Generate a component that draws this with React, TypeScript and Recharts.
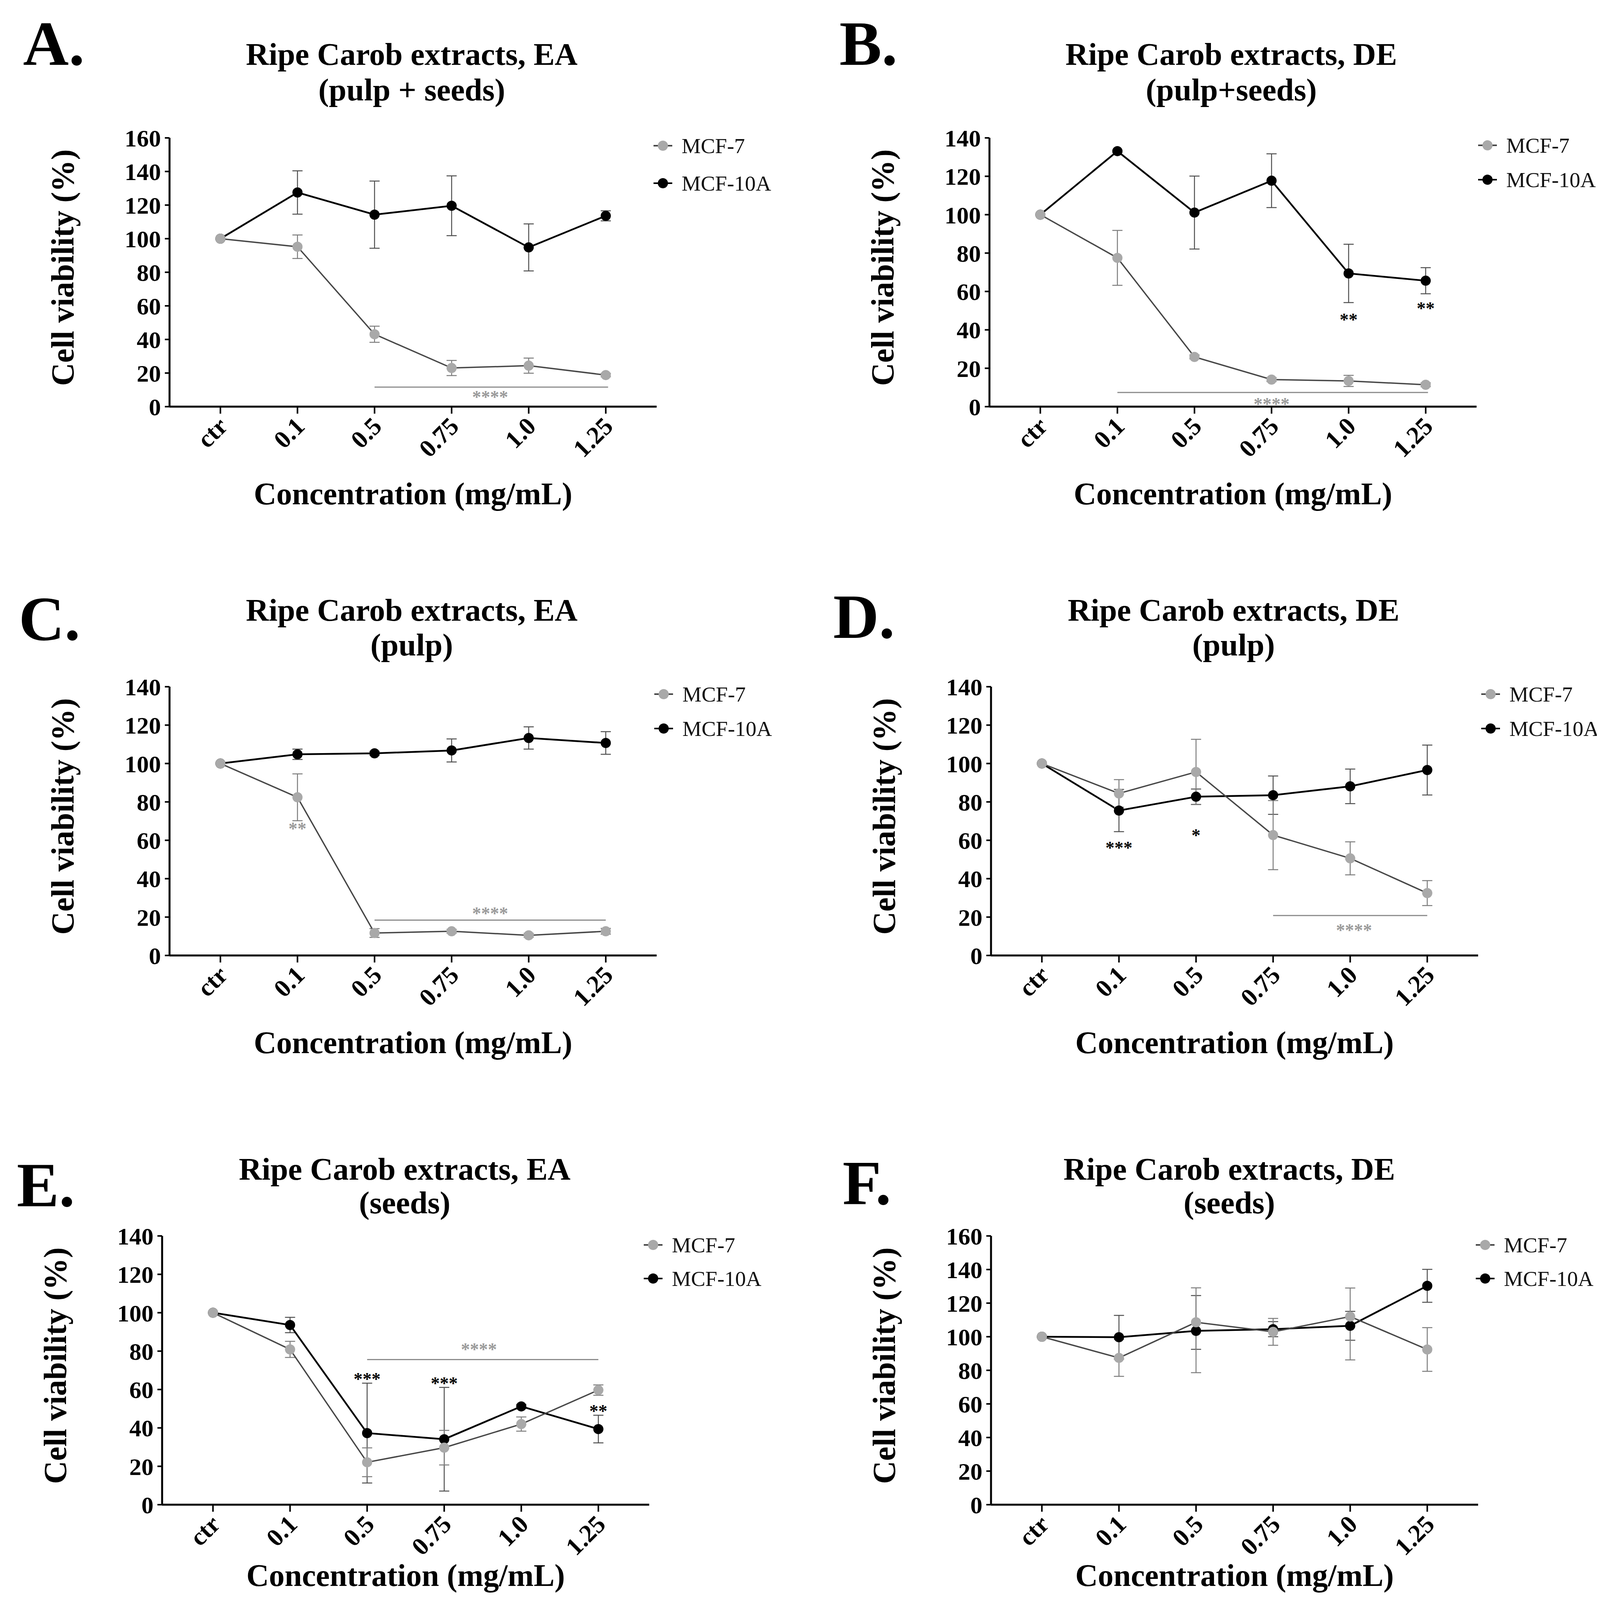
import React from 'react';
import { LineChart, Line, XAxis, YAxis, ErrorBar, ReferenceLine, ReferenceDot, Legend } from 'recharts';

const FONT = '"Liberation Serif", "Times New Roman", Times, serif';

// categories on the x axis
const CATS = ['ctr', '0.1', '0.5', '0.75', '1.0', '1.25'];
const TICKS_160 = [0, 20, 40, 60, 80, 100, 120, 140, 160];
const TICKS_140 = [0, 20, 40, 60, 80, 100, 120, 140];

// A. EA (pulp + seeds)
const A_MCF7 = [100, 95.2, 43.1, 23.0, 24.4, 18.8];
const A_MCF7_SD = [0, 7, 4.8, 4.5, 4.5, 1];
const A_MCF10A = [100, 127.5, 114.3, 119.6, 94.8, 113.6];
const A_MCF10A_SD = [0, 12.9, 20, 17.8, 14, 3];

// B. DE (pulp+seeds)
const B_MCF7 = [100, 77.5, 25.9, 14.1, 13.4, 11.4];
const B_MCF7_SD = [0, 14.3, 1, 1, 2.9, 1];
const B_MCF10A = [100, 133.1, 101.1, 117.7, 69.4, 65.6];
const B_MCF10A_SD = [0, 0.5, 19, 14, 15.2, 6.8];

// C. EA (pulp)
const C_MCF7 = [100, 82.4, 11.7, 12.6, 10.5, 12.6];
const C_MCF7_SD = [0, 12.2, 2.3, 1, 1, 1.5];
const C_MCF10A = [100, 104.8, 105.3, 106.8, 113.3, 110.7];
const C_MCF10A_SD = [0, 2.7, 1, 6, 5.8, 5.9];

// D. DE (pulp)
const D_MCF7 = [100, 84.4, 95.6, 62.7, 50.6, 32.5];
const D_MCF7_SD = [0, 7.2, 17, 18, 8.6, 6.5];
const D_MCF10A = [100, 75.5, 82.7, 83.5, 88.1, 96.6];
const D_MCF10A_SD = [0, 11, 4, 10, 9, 13];

// E. EA (seeds)
const E_MCF7 = [100, 80.9, 22.1, 29.7, 42, 59.7];
const E_MCF7_SD = [0, 4.2, 7.5, 9, 3.7, 2.7];
const E_MCF10A = [100, 93.6, 37.3, 34.1, 51.2, 39.4];
const E_MCF10A_SD = [0, 4, 26, 27, 1, 7.2];

// F. DE (seeds) - some bars are uneven: [down, up]
const F_MCF7 = [100, 87.4, 108.6, 102.9, 112, 92.4];
const F_MCF7_SD = [[0, 0], [11, 11], [30, 20.5], [8, 8], [25.8, 17], [13, 13]];
const F_MCF10A = [100, 99.7, 103.5, 104.5, 106.5, 130.3];
const F_MCF10A_SD = [[0, 0], [13, 13], [11, 21], [4.5, 4.5], [8.6, 8.6], [9.8, 9.8]];

// significance marks
const GRAY_STAR = '#9a9a9a';
const A_BARS = [{ x1: 2, x2: 5.03, y: 11.6 }];
const A_STARS = [{ x: 3.5, y: 7.2, text: '****', color: GRAY_STAR }];
const B_BARS = [{ x1: 1, x2: 5.03, y: 7.4 }];
const B_STARS = [
  { x: 3.0, y: 2.7, text: '****', color: GRAY_STAR },
  { x: 4, y: 46.7, text: '**', color: '#000' },
  { x: 5, y: 52.5, text: '**', color: '#000' },
];
const C_BARS = [{ x1: 2, x2: 5.0, y: 18.4 }];
const C_STARS = [
  { x: 1, y: 67.4, text: '**', color: GRAY_STAR },
  { x: 3.5, y: 23.1, text: '****', color: GRAY_STAR },
];
const D_BARS = [{ x1: 3, x2: 5, y: 20.8 }];
const D_STARS = [
  { x: 1, y: 57.4, text: '***', color: '#000' },
  { x: 2, y: 63.8, text: '*', color: '#000' },
  { x: 4.05, y: 14.5, text: '****', color: GRAY_STAR },
];
const E_BARS = [{ x1: 2, x2: 5, y: 75.6 }];
const E_STARS = [
  { x: 2, y: 66.7, text: '***', color: '#000' },
  { x: 3, y: 64.6, text: '***', color: '#000' },
  { x: 5, y: 50, text: '**', color: '#000' },
  { x: 3.45, y: 82.3, text: '****', color: GRAY_STAR },
];

const C7_DOT = '#a9a9a9';
const C7_LINE = '#474747';
const C7_ERR = '#7d7d7d';
const C10_ERR = '#505050';

// plot box size and its offset inside each chart
const PW = 1247;
const PH = 688;
const ML = 400;
const MT = 330;
const W = ML + PW + 360;
const H = MT + PH + 320;

const PANELS = [
  { letter: 'A.', t1: 'Ripe Carob extracts, EA', t2: '(pulp + seeds)', L: 434, T: 353, yMax: 160, xl: 250,
    lx: 59, ly: 166, tx: 1054, ty1: 166, ty2: 257, gx: 1697, gy: 373, gap: 96,
    m7: A_MCF7, e7: A_MCF7_SD, m10: A_MCF10A, e10: A_MCF10A_SD, bars: A_BARS, stars: A_STARS },
  { letter: 'B.', t1: 'Ripe Carob extracts, DE', t2: '(pulp+seeds)', L: 2533, T: 353, yMax: 140, xl: 250,
    lx: 2149, ly: 166, tx: 3152, ty1: 166, ty2: 257, gx: 3808, gy: 372, gap: 88,
    m7: B_MCF7, e7: B_MCF7_SD, m10: B_MCF10A, e10: B_MCF10A_SD, bars: B_BARS, stars: B_STARS },
  { letter: 'C.', t1: 'Ripe Carob extracts, EA', t2: '(pulp)', L: 434, T: 1758, yMax: 140, xl: 250,
    lx: 48, ly: 1638, tx: 1054, ty1: 1589, ty2: 1678, gx: 1699, gy: 1777, gap: 88,
    m7: C_MCF7, e7: C_MCF7_SD, m10: C_MCF10A, e10: C_MCF10A_SD, bars: C_BARS, stars: C_STARS },
  { letter: 'D.', t1: 'Ripe Carob extracts, DE', t2: '(pulp)', L: 2537, T: 1758, yMax: 140, xl: 250,
    lx: 2133, ly: 1633, tx: 3158, ty1: 1589, ty2: 1678, gx: 3816, gy: 1777, gap: 88,
    m7: D_MCF7, e7: D_MCF7_SD, m10: D_MCF10A, e10: D_MCF10A_SD, bars: D_BARS, stars: D_STARS },
  { letter: 'E.', t1: 'Ripe Carob extracts, EA', t2: '(seeds)', L: 415, T: 3164, yMax: 140, xl: 208,
    lx: 43, ly: 3088, tx: 1036, ty1: 3020, ty2: 3106, gx: 1672, gy: 3187, gap: 86,
    m7: E_MCF7, e7: E_MCF7_SD, m10: E_MCF10A, e10: E_MCF10A_SD, bars: E_BARS, stars: E_STARS },
  { letter: 'F.', t1: 'Ripe Carob extracts, DE', t2: '(seeds)', L: 2537, T: 3164, yMax: 160, xl: 208,
    lx: 2157, ly: 3083, tx: 3147, ty1: 3020, ty2: 3106, gx: 3802, gy: 3187, gap: 86,
    m7: F_MCF7, e7: F_MCF7_SD, m10: F_MCF10A, e10: F_MCF10A_SD, bars: [], stars: [] },
];

const XTick = (props: any) => {
  const { x, y, payload } = props;
  return (
    <text
      transform={`translate(${x + 22},${y + 34}) rotate(-45)`}
      textAnchor="end"
      fontSize={64}
      fontWeight={700}
      fontFamily={FONT}
      fill="#000"
    >
      {CATS[payload.value]}
    </text>
  );
};

// asterisks centred on the given point
const starLabel = (text: string, color: string) => (props: any) => {
  const vb = props.viewBox || {};
  const cx = (vb.x || 0) + (vb.width || 0) / 2;
  const cy = (vb.y || 0) + (vb.height || 0) / 2;
  return (
    <text x={cx} y={cy + 22} textAnchor="middle" fontSize={46} fontWeight={700} fontFamily={FONT} fill={color}>
      {text}
    </text>
  );
};

const legendContent = (gap: number) => () => {
  const rows = [
    { name: 'MCF-7', dot: C7_DOT, line: C7_LINE },
    { name: 'MCF-10A', dot: '#000', line: '#000' },
  ];
  return (
    <svg width={330} height={200} style={{ display: 'block', overflow: 'visible' }}>
      {rows.map((r, k) => {
        const cy = 30 + k * gap;
        return (
          <g key={r.name}>
            <line x1={6} x2={54} y1={cy} y2={cy} stroke={r.line} strokeWidth={4} />
            <circle cx={30} cy={cy} r={13} fill={r.dot} />
            <text x={78} y={cy + 19} fontSize={55} fontFamily={FONT} fill="#111">
              {r.name}
            </text>
          </g>
        );
      })}
    </svg>
  );
};

const Panel = ({ p }: { p: any }) => {
  const ox = p.L - ML;
  const oy = p.T - MT;
  const data = CATS.map((c, i) => ({ i, cat: c, m7: p.m7[i], e7: p.e7[i], m10: p.m10[i], e10: p.e10[i] }));
  const yTicks = p.yMax === 160 ? TICKS_160 : TICKS_140;
  return (
    <div style={{ position: 'absolute', left: ox, top: oy, width: W, height: H }}>
      <LineChart
        width={W}
        height={H}
        data={data}
        margin={{ top: MT, left: ML - 150, right: W - ML - PW, bottom: H - MT - PH - 150 }}
      >
        <XAxis
          type="number"
          dataKey="i"
          domain={[-0.66, 5.66]}
          ticks={[0, 1, 2, 3, 4, 5]}
          allowDataOverflow
          interval={0}
          height={150}
          tick={<XTick />}
          tickSize={18}
          tickLine={{ stroke: '#000', strokeWidth: 4 }}
          axisLine={{ stroke: '#000', strokeWidth: 5 }}
        />
        <YAxis
          type="number"
          domain={[0, p.yMax]}
          ticks={yTicks}
          interval={0}
          width={150}
          allowDataOverflow
          tick={{ fill: '#000', fontSize: 62, fontWeight: 700, fontFamily: FONT }}
          tickSize={12}
          tickMargin={10}
          tickLine={{ stroke: '#000', strokeWidth: 4 }}
          axisLine={{ stroke: '#000', strokeWidth: 5 }}
        />
        <Legend
          layout="horizontal"
          align="center"
          verticalAlign="middle"
          content={legendContent(p.gap)}
          wrapperStyle={{ left: ML + (p.gx - p.L) - 30, top: MT + (p.gy - p.T) - 30, width: 330, height: 200 }}
        />
        {p.bars.map((b: any, k: number) => (
          <ReferenceLine
            key={`bar-${k}`}
            segment={[{ x: b.x1, y: b.y }, { x: b.x2, y: b.y }]}
            stroke="#8c8c8c"
            strokeWidth={3}
            ifOverflow="visible"
          />
        ))}
        <Line
          type="linear"
          dataKey="m10"
          name="MCF-10A"
          stroke="#000"
          strokeWidth={4.5}
          dot={{ r: 13, fill: '#000', stroke: '#000', strokeWidth: 0 }}
          activeDot={false}
          isAnimationActive={false}
        >
          <ErrorBar dataKey="e10" direction="y" width={13} stroke={C10_ERR} strokeWidth={2.5} isAnimationActive={false} />
        </Line>
        <Line
          type="linear"
          dataKey="m7"
          name="MCF-7"
          stroke={C7_LINE}
          strokeWidth={3.5}
          dot={{ r: 13, fill: C7_DOT, stroke: C7_DOT, strokeWidth: 0 }}
          activeDot={false}
          isAnimationActive={false}
        >
          <ErrorBar dataKey="e7" direction="y" width={13} stroke={C7_ERR} strokeWidth={2.5} isAnimationActive={false} />
        </Line>
        {p.stars.map((s: any, k: number) => (
          <ReferenceDot
            key={`star-${k}`}
            x={s.x}
            y={s.y}
            r={0}
            fill="none"
            stroke="none"
            ifOverflow="visible"
            label={starLabel(s.text, s.color)}
          />
        ))}
      </LineChart>
      <svg
        width={W}
        height={H}
        style={{ position: 'absolute', left: 0, top: 0, pointerEvents: 'none', overflow: 'visible' }}
      >
        <text x={p.lx - ox} y={p.ly - oy} fontSize={162} fontWeight={700} fontFamily={FONT} fill="#000">
          {p.letter}
        </text>
        <text x={p.tx - ox} y={p.ty1 - oy} textAnchor="middle" fontSize={81} fontWeight={700} fontFamily={FONT} fill="#000">
          {p.t1}
        </text>
        <text x={p.tx - ox} y={p.ty2 - oy} textAnchor="middle" fontSize={81} fontWeight={700} fontFamily={FONT} fill="#000">
          {p.t2}
        </text>
        <text
          transform={`translate(${ML - 273 + 27},${MT + PH / 2 - 12}) rotate(-90)`}
          textAnchor="middle"
          fontSize={82}
          fontWeight={700}
          fontFamily={FONT}
          fill="#000"
        >
          Cell viability (%)
        </text>
        <text x={ML + PW / 2} y={MT + PH + p.xl} textAnchor="middle" fontSize={80} fontWeight={700} fontFamily={FONT} fill="#000">
          Concentration (mg/mL)
        </text>
      </svg>
    </div>
  );
}

export default function App() {
  return (
    <div
      style={{
        position: 'relative',
        marginTop: -8,
        marginLeft: -8,
        width: 4148,
        height: 4214,
        background: '#fff',
        overflow: 'hidden',
      }}
    >
      {PANELS.map((p) => (
        <Panel key={p.letter} p={p} />
      ))}
    </div>
  );
}
